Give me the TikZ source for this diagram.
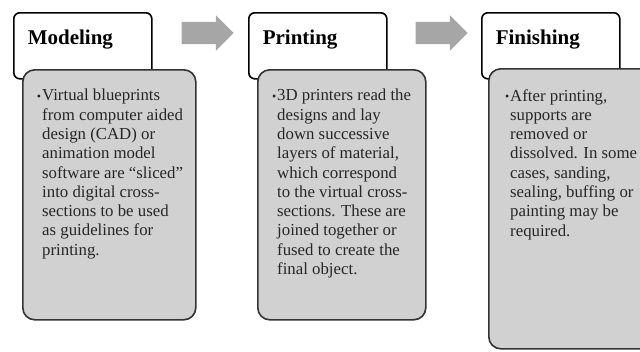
\documentclass[tikz,border=0pt]{standalone}
\usepackage{fontspec}
\setmainfont{Liberation Serif}
\usetikzlibrary{shapes.arrows}

\newcommand{\itembullet}{\llap{\fontsize{12}{12}\selectfont\raisebox{0.5pt}{•}\hspace{1pt}}}

\begin{document}
\begin{tikzpicture}[x=1pt,y=-1pt,
  title node/.style={draw=black,line width=1.6pt,rounded corners=6pt,fill=white,
    anchor=north west,inner xsep=14pt,inner ysep=0pt,text width=110pt,align=left,
    text height=32pt,text depth=34pt,font=\fontsize{21}{24}\selectfont\bfseries},
  body node/.style={draw=black!80,line width=1.6pt,rounded corners=12pt,fill=black!18,
    anchor=north west,inner sep=0pt},
  body text/.style={anchor=north west,inner sep=0pt,align=left,text=black!85,
    font=\fontsize{16.8}{19.3}\selectfont},
  flow arrow/.style={single arrow,fill=black!35,inner xsep=0pt,inner ysep=11pt,
    minimum height=52pt,single arrow head extend=6.5pt,single arrow head indent=0pt}]

  \useasboundingbox (0,0) rectangle (640,351);
  \clip (0,0) rectangle (640,351);

  % modeling
  \node[title node] (modeling) at (13,12) {Modeling};
  \node[body node,minimum width=173pt,minimum height=250pt] (modelingbody) at (22,69) {};
  \node[body text] (modelingtext) at (42,89) {\itembullet Virtual blueprints\\
    from computer aided\\ design (CAD) or\\ animation model\\
    software are “sliced”\\ into digital cross-\\ sections to be used\\
    as guidelines for\\ printing.};

  % printing
  \node[title node] (printing) at (248,12) {Printing};
  \node[body node,minimum width=168pt,minimum height=250pt] (printingbody) at (257,69) {};
  \node[body text] (printingtext) at (277,89) {\itembullet 3D printers read the\\
    designs and lay\\ down successive\\ layers of material,\\
    which correspond\\ to the virtual cross-\\ sections. These are\\
    joined together or\\ fused to create the\\ final object.};

  % finishing
  \node[title node] (finishing) at (481,12) {Finishing};
  \node[body node,minimum width=190pt,minimum height=280pt] (finishingbody) at (488,68) {};
  \node[body text] (finishingtext) at (510,89) {\itembullet After printing,\\
    supports are\\ removed or\\ dissolved. In some\\
    cases, sanding,\\ sealing, buffing or\\ painting may be\\ required.};

  \node[flow arrow] (arrow1) at (202,33) {};
  \node[flow arrow] (arrow2) at (436,33) {};
\end{tikzpicture}
\end{document}
